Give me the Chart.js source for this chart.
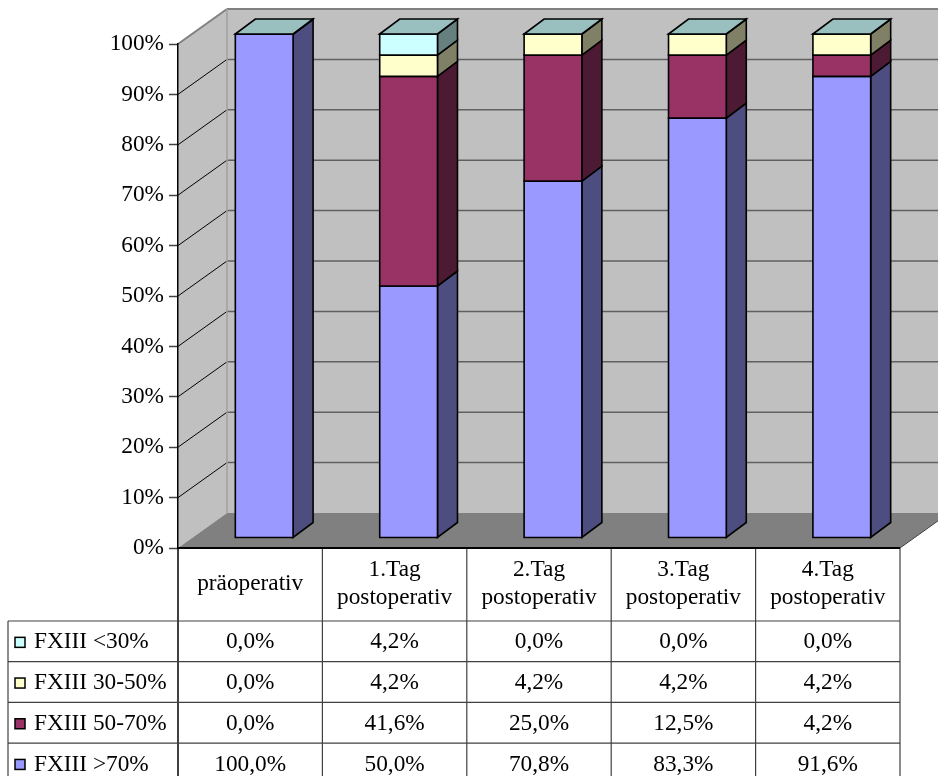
<!DOCTYPE html>
<html>
<head>
<meta charset="utf-8">
<script src="https://cdn.jsdelivr.net/npm/chart.js@4.4.1/dist/chart.umd.min.js"></script>
<style>
  html, body { margin: 0; padding: 0; background: #ffffff; }
  #wrap { width: 938px; height: 776px; }
</style>
</head>
<body>
<div id="wrap"><canvas id="chart" width="938" height="776"></canvas></div>
<script>
// Categories (multi-line labels for the table header)
const categories = [
  ['präoperativ'],
  ['1.Tag', 'postoperativ'],
  ['2.Tag', 'postoperativ'],
  ['3.Tag', 'postoperativ'],
  ['4.Tag', 'postoperativ']
];

// Series, in table order (top row first)
const seriesNames = ['FXIII <30%', 'FXIII 30-50%', 'FXIII 50-70%', 'FXIII >70%'];
const under30   = [0.0, 4.2, 0.0, 0.0, 0.0];
const from30to50 = [0.0, 4.2, 4.2, 4.2, 4.2];
const from50to70 = [0.0, 41.6, 25.0, 12.5, 4.2];
const over70    = [100.0, 50.0, 70.8, 83.3, 91.6];
const seriesColors = ['#CCFFFF', '#FFFFCC', '#993366', '#9999FF'];

// Value axis ticks
const yTicks = [0, 10, 20, 30, 40, 50, 60, 70, 80, 90, 100];

const FONT = '"Liberation Serif", "Times New Roman", serif';
const FONT_SIZE = 23.3;

// 3D geometry: depth of the walls and placement of the bar boxes inside them
const WALL = { dx: 49, dy: -35 };
const BAR_FRONT = { dx: 14, dy: -10 };
const BAR_DEPTH = { dx: 20, dy: -15 };

function shade(hex, f) {
  const n = parseInt(hex.slice(1), 16);
  const r = Math.round(((n >> 16) & 255) * f);
  const g = Math.round(((n >> 8) & 255) * f);
  const b = Math.round((n & 255) * f);
  return 'rgb(' + r + ',' + g + ',' + b + ')';
}

function poly(ctx, pts, fill, stroke, lw) {
  ctx.beginPath();
  ctx.moveTo(pts[0][0], pts[0][1]);
  for (let i = 1; i < pts.length; i++) ctx.lineTo(pts[i][0], pts[i][1]);
  ctx.closePath();
  if (fill) { ctx.fillStyle = fill; ctx.fill(); }
  if (stroke) { ctx.strokeStyle = stroke; ctx.lineWidth = lw || 1; ctx.stroke(); }
}

function line(ctx, x1, y1, x2, y2, color, lw) {
  ctx.beginPath();
  ctx.moveTo(x1, y1);
  ctx.lineTo(x2, y2);
  ctx.strokeStyle = color;
  ctx.lineWidth = lw;
  ctx.stroke();
}

// Walls, floor and gridlines of the 3D plot box
const wallsPlugin = {
  id: 'walls',
  beforeDraw(chart) {
    const ctx = chart.ctx;
    const { left, right, top, bottom } = chart.chartArea;
    const y = chart.scales.y;
    const W = chart.width;
    ctx.save();
    // back wall
    ctx.fillStyle = '#C0C0C0';
    ctx.fillRect(left + WALL.dx, top + WALL.dy, W - left - WALL.dx, bottom - top);
    // side wall
    poly(ctx, [[left, top], [left + WALL.dx, top + WALL.dy], [left + WALL.dx, bottom + WALL.dy], [left, bottom]], '#C0C0C0');
    // floor
    poly(ctx, [[left, bottom], [right, bottom], [right + WALL.dx, bottom + WALL.dy], [left + WALL.dx, bottom + WALL.dy]], '#808080');

    // gridlines on back wall and side wall
    yTicks.forEach(v => {
      if (v === 0 || v === 100) return;
      const py = y.getPixelForValue(v);
      line(ctx, left + WALL.dx, py + WALL.dy, W, py + WALL.dy, '#606060', 1.5);
      line(ctx, left, py, left + WALL.dx, py + WALL.dy, '#000000', 1);
    });
    // wall edges
    const ty = y.getPixelForValue(100);
    line(ctx, left + WALL.dx, ty + WALL.dy, W, ty + WALL.dy, '#808080', 2);
    line(ctx, left, ty, left + WALL.dx, ty + WALL.dy, '#808080', 2);
    line(ctx, left + WALL.dx, ty + WALL.dy, left + WALL.dx, bottom + WALL.dy, '#A0A0A0', 1.5);
    line(ctx, right, bottom, right + WALL.dx, bottom + WALL.dy, '#404040', 1);
    ctx.restore();
  }
};

// 3D bar boxes built from the bar elements' positions
const boxesPlugin = {
  id: 'boxes',
  beforeDatasetsDraw(chart) {
    const ctx = chart.ctx;
    ctx.save();
    ctx.lineJoin = 'miter';
    const n = chart.data.labels.length;
    const metas = chart.data.datasets.map((d, i) => chart.getDatasetMeta(i));
    for (let i = 0; i < n; i++) {
      let topEl = null, topColor = null;
      metas.forEach((meta, j) => {
        const el = meta.data[i];
        const color = chart.data.datasets[j].backgroundColor;
        const xl = el.x - el.width / 2 + BAR_FRONT.dx;
        const xr = el.x + el.width / 2 + BAR_FRONT.dx;
        const yt = el.y + BAR_FRONT.dy;
        const yb = el.base + BAR_FRONT.dy;
        // side face
        poly(ctx, [[xr, yt], [xr + BAR_DEPTH.dx, yt + BAR_DEPTH.dy], [xr + BAR_DEPTH.dx, yb + BAR_DEPTH.dy], [xr, yb]],
          shade(color, 0.5), '#000', 1.6);
        // front face
        poly(ctx, [[xl, yt], [xr, yt], [xr, yb], [xl, yb]], color, '#000', 1.6);
        topEl = { xl, xr, yt };
        topColor = color;
      });
      // top face of the stack
      poly(ctx, [[topEl.xl, topEl.yt], [topEl.xl + BAR_DEPTH.dx, topEl.yt + BAR_DEPTH.dy],
        [topEl.xr + BAR_DEPTH.dx, topEl.yt + BAR_DEPTH.dy], [topEl.xr, topEl.yt]],
        shade(topColor, 0.75), '#000', 1.6);
    }
    ctx.restore();
    return false;
  }
};

// Data table below the plot
const tablePlugin = {
  id: 'dataTable',
  afterDraw(chart) {
    const ctx = chart.ctx;
    const { left, right, bottom } = chart.chartArea;
    const x = chart.scales.x;
    const H = chart.height;
    const headerBottom = 621;
    const rowH = 40.7;
    const legendLeft = 8;
    ctx.save();

    // column boundaries
    const bounds = [left];
    for (let i = 0; i < categories.length - 1; i++) {
      bounds.push((x.getPixelForValue(i) + x.getPixelForValue(i + 1)) / 2);
    }
    bounds.push(right);

    // grid lines
    bounds.forEach((bx, k) => line(ctx, bx, bottom, bx, H, k === 0 ? '#000' : '#404040', k === 0 ? 1.5 : 1.2));
    line(ctx, legendLeft, headerBottom, legendLeft, H, '#404040', 1.2);
    for (let r = 0; r < seriesNames.length; r++) {
      const ry = headerBottom + r * rowH;
      line(ctx, legendLeft, ry, right, ry, '#404040', 1.2);
    }
    // front floor edge / category axis
    line(ctx, left, bottom, right, bottom, '#000', 2);

    ctx.fillStyle = '#000';
    ctx.font = FONT_SIZE + 'px ' + FONT;
    ctx.textAlign = 'center';
    ctx.textBaseline = 'middle';

    // header
    categories.forEach((lab, i) => {
      const cx = (bounds[i] + bounds[i + 1]) / 2;
      if (lab.length === 1) {
        ctx.fillText(lab[0], cx, 584);
      } else {
        ctx.fillText(lab[0], cx, 570);
        ctx.fillText(lab[1], cx, 598);
      }
    });

    // rows
    const rows = [under30, from30to50, from50to70, over70];
    rows.forEach((vals, r) => {
      const cy = headerBottom + r * rowH + rowH / 2 + 1;
      vals.forEach((v, i) => {
        const cx = (bounds[i] + bounds[i + 1]) / 2;
        ctx.fillText(v.toFixed(1).replace('.', ',') + '%', cx, cy);
      });
      // legend key + name
      ctx.fillStyle = seriesColors[r];
      ctx.fillRect(15, cy - 5, 10, 10);
      ctx.strokeStyle = '#000';
      ctx.lineWidth = 1.5;
      ctx.strokeRect(15, cy - 5, 10, 10);
      ctx.fillStyle = '#000';
      ctx.textAlign = 'left';
      ctx.fillText(seriesNames[r], 34, cy);
      ctx.textAlign = 'center';
    });
    ctx.restore();
  }
};

// Datasets stack bottom-up: >70% first
const stackOrder = [3, 2, 1, 0];
const seriesValues = [under30, from30to50, from50to70, over70];

new Chart(document.getElementById('chart'), {
  type: 'bar',
  data: {
    labels: categories,
    datasets: stackOrder.map(k => ({
      label: seriesNames[k],
      data: seriesValues[k],
      backgroundColor: seriesColors[k],
      categoryPercentage: 1.0,
      barPercentage: 0.4
    }))
  },
  options: {
    responsive: false,
    animation: false,
    layout: { padding: { left: 0, right: 38, top: 44, bottom: 228 } },
    plugins: { legend: { display: false }, tooltip: { enabled: false } },
    scales: {
      x: { display: false, stacked: true },
      y: {
        stacked: true,
        min: 0,
        max: 100,
        afterFit(scale) { scale.width = 178; },
        afterBuildTicks(scale) { scale.ticks = yTicks.map(v => ({ value: v })); },
        ticks: {
          callback: v => v + '%',
          color: '#000',
          padding: 5,
          font: { family: FONT, size: FONT_SIZE }
        },
        grid: { drawOnChartArea: false, drawTicks: true, tickLength: 9, tickColor: '#404040', tickWidth: 1.5 },
        border: { color: '#000', width: 1.5 }
      }
    }
  },
  plugins: [wallsPlugin, boxesPlugin, tablePlugin]
});
</script>
</body>
</html>
